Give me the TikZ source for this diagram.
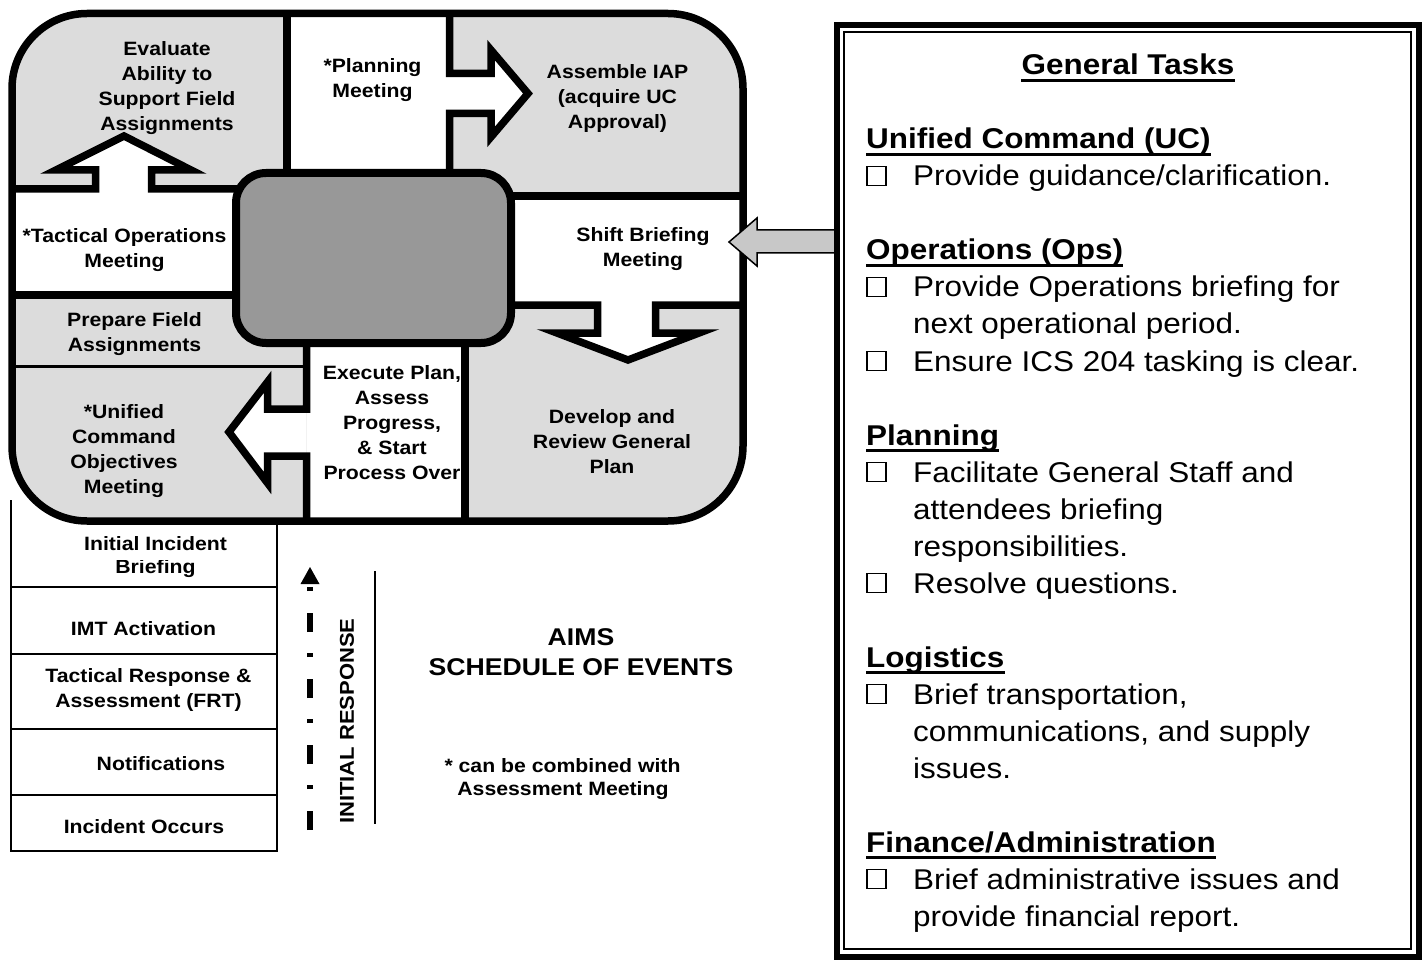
\documentclass[tikz,border=0pt]{standalone}
\usepackage{fontspec}
\setmainfont{Liberation Sans}[FakeStretch=1.1]
\definecolor{cellgray}{RGB}{220,220,220}
\definecolor{hubgray}{RGB}{152,152,152}
\definecolor{pointergray}{RGB}{200,200,200}
\tikzset{
  cell/.style={font=\fontsize{19.3}{25}\selectfont\bfseries, align=center, inner sep=0pt},
  task/.style={anchor=base west, inner sep=0pt, font=\fontsize{28.6}{37}\selectfont},
  taskhead/.style={anchor=base west, inner sep=0pt, font=\fontsize{28.6}{37}\selectfont\bfseries},
  cbox/.style={draw, line width=1.6pt, minimum size=19pt, inner sep=0pt},
  heavy/.style={line width=7.5pt},
  blockarrow/.style={heavy, fill=white, line join=miter},
  hubbox/.style={draw, fill=hubgray, line width=8pt, rounded corners=30pt,
    minimum width=275pt, minimum height=170pt, inner sep=0pt},
}
\begin{document}
\begin{tikzpicture}[x=1pt, y=-1pt]
\useasboundingbox (0,0) rectangle (1425,960);

% ---------- initial response timeline (behind the cycle) ----------
\fill[white] (11,500) rectangle (276.5,851);
\draw[line width=2pt] (11,500) -- (11,851) -- (276.5,851) -- (276.5,500);
\foreach \yy in {587,654,729,795} \draw[line width=2pt] (11,\yy) -- (276.5,\yy);

% ---------- planning cycle ----------
\begin{scope}
  \clip[rounded corners=75pt] (12,13.5) rectangle (743,521);
  \fill[cellgray] (0,0) rectangle (760,530);
  \fill[white] (287,0) rectangle (449.5,173);
  \fill[white] (0,189) rectangle (236,295);
  \fill[white] (511,196) rectangle (760,305);
  \fill[white] (306.5,343) rectangle (465,530);
  % column and row dividers
  \draw[heavy] (287,0) -- (287,176);
  \draw[heavy] (0,295) -- (240,295);
  \draw[line width=3pt] (0,366.5) -- (306.5,366.5);
  \draw[heavy] (465,340) -- (465,530);
  \draw[heavy] (508,196) -- (760,196);
  % block arrows growing out of the dividers
  \draw[blockarrow] (449.5,0) -- (449.5,73.5) -- (491,73.5) -- (491,50) -- (528,93.5)
    -- (491,137) -- (491,113.5) -- (449.5,113.5) -- (449.5,176);
  \draw[blockarrow] (0,189) -- (95.5,189) -- (95.5,170) -- (56,170) -- (124,136)
    -- (191,170) -- (151.5,170) -- (151.5,189) -- (240,189);
  \draw[blockarrow] (306.5,340) -- (306.5,409) -- (267.5,409) -- (267.5,382) -- (229,432)
    -- (267.5,483) -- (267.5,456) -- (306.5,456) -- (306.5,530);
  \draw[blockarrow] (508,305) -- (597.5,305) -- (597.5,333) -- (557,333) -- (628,360)
    -- (699,333) -- (655.5,333) -- (655.5,305) -- (760,305);
\end{scope}
\node[hubbox] (hub) at (373.5,258) {};
\draw[heavy, rounded corners=75pt] (12,13.5) rectangle (743,521);

% ---------- cycle labels ----------
\node[cell] (evaluate) at (167,88.5) {Evaluate\\Ability to\\Support Field\\Assignments};
\node[cell] (planmtg) at (372.5,80) {*Planning\\Meeting};
\node[cell] (assemble) at (617.5,99) {Assemble IAP\\(acquire UC\\Approval)};
\node[cell] (tactical) at (124.5,250) {*Tactical Operations\\Meeting};
\node[cell] (shift) at (643,249) {Shift Briefing\\Meeting};
\node[cell] (prepare) at (134.5,334) {Prepare Field\\Assignments};
\node[cell] (execute) at (392,422.5) {Execute Plan,\\Assess\\Progress,\\\& Start\\Process Over};
\node[cell] (ucobj) at (124,451.5) {*Unified\\Command\\Objectives\\Meeting};
\node[cell] (develop) at (612,441.5) {Develop and\\Review General\\Plan};

% ---------- timeline labels ----------
\begin{scope}
  \clip (11,560) rectangle (276.5,578.5);
  \node[cell] (iib2) at (155.5,569) {Briefing};
\end{scope}
\node[cell] (iib) at (155.5,544) {Initial Incident};
\node[cell] (imt) at (143.5,629) {IMT Activation};
\node[cell] (trfrt) at (148.5,690) {Tactical Response \&\\Assessment (FRT)};
\node[cell] (notif) at (161,764) {Notifications};
\node[cell] (occurs) at (144,827) {Incident Occurs};

% ---------- initial response arrow ----------
\coordinate (respStart) at (310,830);
\coordinate (respEnd) at (310,586);
\draw[line width=6pt, dash pattern=on 19pt off 22pt on 4pt off 21pt] (respStart) -- (respEnd);
\fill ([yshift=2pt]respEnd) -- ++(9.5,0) -- (310,567) -- (300.5,584) -- cycle;
\coordinate (barTop) at (374.5,571);
\coordinate (barBottom) at (374.5,824);
\draw[line width=2pt] (barTop) -- (barBottom);
\node[cell, rotate=90, font=\fontsize{20}{25}\selectfont\bfseries] (initresp) at (347,721) {INITIAL RESPONSE};

\node[font=\fontsize{24.2}{30}\selectfont\bfseries, align=center, inner sep=0pt] (aims)
  at (581,652) {AIMS\\SCHEDULE OF EVENTS};
\node[cell] (note1) at (562.5,766) {* can be combined with};
\begin{scope}
  \clip (430,775) rectangle (700,799);
  \node[cell] (note2) at (563,791) {Assessment Meeting};
\end{scope}

% ---------- pointer from task panel to shift briefing ----------
\filldraw[fill=pointergray, line width=1.5pt, line join=miter] (842,230) -- (757,230) -- (757,218)
  -- (729,242) -- (757,266) -- (757,253) -- (842,253);

% ---------- general tasks panel ----------
\draw[line width=6pt, fill=white] (836.5,25.5) rectangle (1419,957);
\draw[line width=2pt] (844,32) rectangle (1411,949);

\node[taskhead, anchor=base] (gt) at (1128,75) {General Tasks};
\node[taskhead] (huc) at (866,149) {Unified Command (UC)};
\node[taskhead] (hops) at (866,260) {Operations (Ops)};
\node[taskhead] (hplan) at (866,445) {Planning};
\node[taskhead] (hlog) at (866,667) {Logistics};
\node[taskhead] (hfin) at (866,852) {Finance/Administration};
\foreach \h in {gt,huc,hops,hplan,hlog,hfin}
  \draw[line width=3pt] ([yshift=-5.5pt]\h.base west) -- ([yshift=-5.5pt]\h.base east);

\foreach \bl/\nm in {186/c1,297/c2,371/c3,482/c4,593/c5,704/c6,889/c7}
  \node[cbox] (\nm) at (876.5,\bl-10) {};

\node[task] (t1) at (913,186) {Provide guidance/clarification.};
\node[task] (t2) at (913,297) {Provide Operations briefing for};
\node[task] (t2b) at (913,334) {next operational period.};
\node[task] (t3) at (913,371) {Ensure ICS 204 tasking is clear.};
\node[task] (t4) at (913,482) {Facilitate General Staff and};
\node[task] (t4b) at (913,519) {attendees briefing};
\node[task] (t4c) at (913,556) {responsibilities.};
\node[task] (t5) at (913,593) {Resolve questions.};
\node[task] (t6) at (913,704) {Brief transportation,};
\node[task] (t6b) at (913,741) {communications, and supply};
\node[task] (t6c) at (913,778) {issues.};
\node[task] (t7) at (913,889) {Brief administrative issues and};
\node[task] (t7b) at (913,926) {provide financial report.};
\end{tikzpicture}
\end{document}
